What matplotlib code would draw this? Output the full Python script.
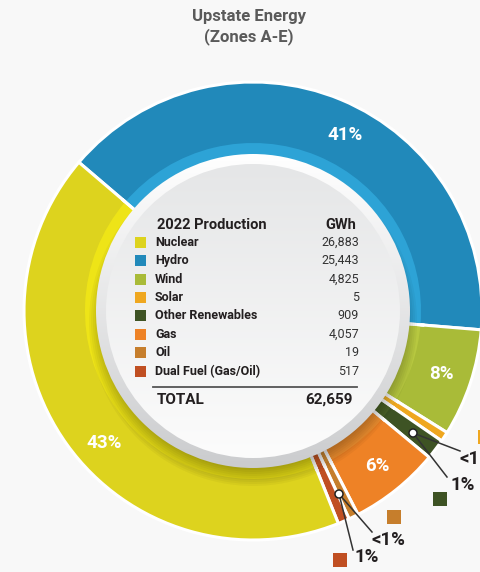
import numpy as np
import matplotlib
matplotlib.use('Agg')
import matplotlib.pyplot as plt
from matplotlib.patches import Circle, Rectangle
from matplotlib.colors import LinearSegmentedColormap

plt.rcParams['font.family'] = ['Roboto', 'DejaVu Sans']

# ---------------- data ----------------
title_lines = ['Upstate Energy', '(Zones A-E)']
categories = ['Nuclear', 'Hydro', 'Wind', 'Solar', 'Other Renewables',
              'Gas', 'Oil', 'Dual Fuel (Gas/Oil)']
gwh = [26883, 25443, 4825, 5, 909, 4057, 19, 517]
value_labels = ['26,883', '25,443', '4,825', '5', '909', '4,057', '19', '517']
pct_labels = ['43%', '41%', '8%', '<1%', '1%', '6%', '<1%', '1%']
table_header = ['2022 Production', 'GWh']
total_text = ['TOTAL', '62,659']

colors = ['#DDD31E', '#2189BA', '#A9BB38', '#EFA71F', '#3E5324',
          '#EE8226', '#C67E2C', '#C04F22']
inner_colors = ['#EEE417', '#2DA3D6', '#B7C840', '#F6B62B', '#4B6229',
                '#F39231', '#D08B34', '#CC5B29']

BG = '#F8F8F8'
W, H = 480, 572


def Y(y):
    return H - y


fig = plt.figure(figsize=(W / 100, H / 100), dpi=100, facecolor=BG)
ax = fig.add_axes([0, 0, 1, 1])
ax.set_facecolor('none')

cx, cy = 253, Y(311)
R = 229
R_in = 150

order = [1, 2, 3, 4, 5, 6, 7, 0]     # clockwise from the hydro/nuclear border
total = sum(gwh)
shown = np.maximum(np.array(gwh, float), total * 0.007)  # tiny slices stay visible
vals = shown[order]

wedges, _ = ax.pie(vals, colors=[colors[i] for i in order], startangle=139.5,
                   counterclock=False, center=(cx, cy), radius=R,
                   wedgeprops=dict(width=R - R_in, edgecolor='white', linewidth=2.2))
ax.pie(vals, colors=[inner_colors[i] for i in order], startangle=139.5,
       counterclock=False, center=(cx, cy), radius=168,
       wedgeprops=dict(width=12, edgecolor='none', linewidth=0))

# white separators over the bright band
for w in wedges:
    for th in (w.theta1, w.theta2):
        t = np.deg2rad(th)
        ax.plot([cx + 148 * np.cos(t), cx + 172 * np.cos(t)],
                [cy + 148 * np.sin(t), cy + 172 * np.sin(t)],
                color='white', lw=2.2, zorder=2, solid_capstyle='butt')

# drop shadow of the centre disc
for k in range(10):
    ax.add_patch(Circle((cx, cy - 11), 146 + 2 * k, facecolor='black',
                        edgecolor='none', alpha=0.035, zorder=3))


def grad_disc(r, top, bottom, z):
    cm = LinearSegmentedColormap.from_list('g', [bottom, top])
    g = np.linspace(0, 1, 256)[:, None]
    im = ax.imshow(g, extent=[cx - r, cx + r, cy - r, cy + r], origin='lower',
                   cmap=cm, aspect='auto', zorder=z, interpolation='bilinear')
    im.set_clip_path(Circle((cx, cy), r, transform=ax.transData))


grad_disc(157, '#FFFFFF', '#CBCCCE', 4)
grad_disc(147, '#E5E6E7', '#FCFCFC', 5)

# percentage labels on big slices (angle nudges are layout only)
label_r = 199
angle_nudge = {0: 6.0, 1: -5.0}
for pos, w in enumerate(wedges):
    i = order[pos]
    if shown[i] / total > 0.03:
        t = np.deg2rad((w.theta1 + w.theta2) / 2 + angle_nudge.get(i, 0.0))
        ax.text(cx + label_r * np.cos(t), cy + label_r * np.sin(t), pct_labels[i],
                color='white', fontsize=13.5, fontweight='bold',
                ha='center', va='center', zorder=6)

# callouts for small slices: (text left x, text y, square x, square y)
callouts = {3: (460, 459, 485, 437), 4: (450, 485, 440, 499),
            6: (372, 540, 394, 517), 7: (354, 557, 340, 560)}
for i, (tx, ty, sx, sy) in callouts.items():
    ax.text(tx, Y(ty), pct_labels[i], color='#231F20', fontsize=13.5,
            fontweight='bold', ha='left', va='center', zorder=7)
    ax.add_patch(Rectangle((sx - 7, Y(sy) - 7), 14, 14, facecolor=colors[i],
                           edgecolor='none', zorder=7))

leaders = [((413, 433), [(460, 451), (447, 477)]),
           ((339, 494), [(372, 532), (353, 550)])]
for (dx, dy), ends in leaders:
    for ex, ey in ends:
        ax.plot([dx, ex], [Y(dy), Y(ey)], color='#333333', lw=1.1, zorder=7)
    ax.add_patch(Circle((dx, Y(dy)), 4, facecolor='white', edgecolor='#222222',
                        lw=1.1, zorder=8))

# title
ax.text(249, Y(16), title_lines[0], fontsize=12, fontweight='bold',
        color='#5A5A5A', ha='center', va='center')
ax.text(249, Y(37), title_lines[1], fontsize=12, fontweight='bold',
        color='#5A5A5A', ha='center', va='center')

# table inside the disc
ax.text(157, Y(225), table_header[0], fontsize=10.5, fontweight='bold',
        color='#231F20', ha='left', va='center', zorder=6)
ax.text(356, Y(225), table_header[1], fontsize=10.5, fontweight='bold',
        color='#231F20', ha='right', va='center', zorder=6)
for k, (name, val, col) in enumerate(zip(categories, value_labels, colors)):
    yy = Y(242.3 + 18.4 * k)
    ax.add_patch(Rectangle((135, yy - 5.5), 11, 11, facecolor=col,
                           edgecolor='none', zorder=6))
    ax.text(155, yy, name, fontsize=9, fontweight='bold', color='#231F20',
            ha='left', va='center', zorder=6)
    ax.text(359, yy, val, fontsize=9, color='#333333',
            ha='right', va='center', zorder=6)
ax.plot([153, 357], [Y(386.7)] * 2, color='#555555', lw=1.3, zorder=6)
ax.text(157, Y(399.5), total_text[0], fontsize=11, fontweight='bold',
        color='#231F20', ha='left', va='center', zorder=6)
ax.text(353, Y(399.5), total_text[1], fontsize=11, fontweight='bold',
        color='#231F20', ha='right', va='center', zorder=6)

ax.set_xlim(0, W)
ax.set_ylim(0, H)
ax.set_aspect('auto')
ax.axis('off')
fig.savefig('out.png', dpi=100, facecolor=BG)
